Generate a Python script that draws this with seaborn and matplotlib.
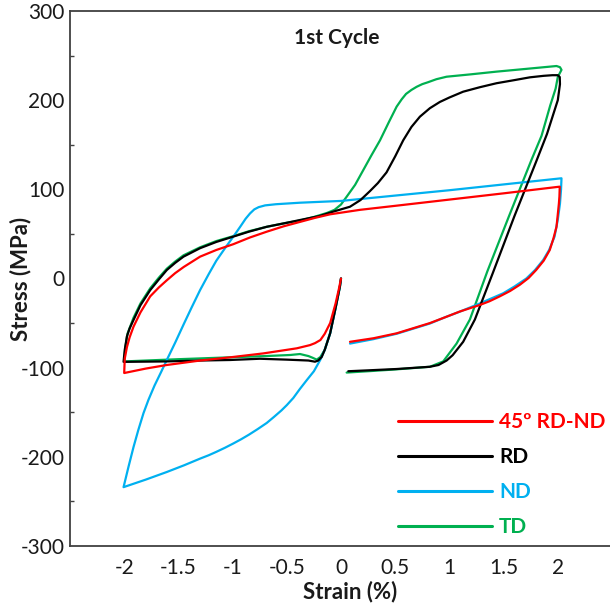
import numpy as np
import pandas as pd
import matplotlib
matplotlib.use("Agg")
import matplotlib.pyplot as plt
import seaborn as sns

# Strain (%) / stress (MPa) paths for the first cycle: compression to -2 %,
# reversal to +2 %, then unloading.
red_strain = [0, -0.02, -0.05, -0.1, -0.15, -0.19, -0.24, -0.286, -0.408, -0.716,
              -1.023, -1.3, -1.607, -1.8, -2.0,
              -1.995, -1.975, -1.95, -1.914, -1.85, -1.76, -1.68, -1.607, -1.53,
              -1.45, -1.3, -1.15, -0.993, -0.84, -0.685, -0.53, -0.378, -0.24,
              -0.1, 0.175, 0.5, 1.0, 1.5, 2.018,
              2.015, 2.01, 2.0, 1.988, 1.96, 1.926, 1.87, 1.8, 1.73, 1.65,
              1.56, 1.465, 1.37, 1.28, 1.097, 0.96, 0.82, 0.66, 0.513, 0.3, 0.083]
red_stress = [0, -12, -28, -50, -62, -69, -72.5, -74.7, -78.3, -84,
              -88.4, -92, -97, -101, -106,
              -90, -77, -66, -54, -38, -20, -10, -2, 6,
              13, 24.5, 32, 38.5, 46, 52.5, 58.5, 63.5, 68,
              72, 77, 81.5, 88.5, 95.5, 103,
              92, 84, 72, 58, 45, 32, 20, 9.5, 0.5, -7,
              -14, -20, -25.5, -29.7, -37, -43.5, -50, -56, -61.5, -67, -71]

rd_strain = [0, -0.01, -0.05, -0.1, -0.15, -0.178, -0.21, -0.24, -0.3, -0.5,
             -0.75, -1.023, -1.3, -1.607, -2.006,
             -1.995, -1.975, -1.95, -1.914, -1.85, -1.76, -1.68, -1.607, -1.53,
             -1.453, -1.3, -1.15, -0.993, -0.85, -0.685, -0.5, -0.378, -0.2,
             -0.071, 0.083, 0.18, 0.267, 0.34, 0.42, 0.5, 0.574, 0.65, 0.728,
             0.82, 0.912, 1.0, 1.127, 1.28, 1.435, 1.6, 1.742, 1.87, 1.95, 2.0,
             2.018,
             2.02, 2.0, 1.95, 1.9, 1.8, 1.6, 1.4, 1.235, 1.127, 1.03, 0.974,
             0.9, 0.82, 0.513, 0.25, 0.067]
rd_stress = [0, -9, -33, -61.5, -80, -88, -92, -93.3, -92, -91,
             -90, -91.4, -92, -93, -93.5,
             -80, -65, -56, -46.5, -30, -13, -1, 9.5, 17.5,
             24.5, 34, 41, 47, 52.5, 58, 62.5, 65.6, 70,
             75, 80.5, 88, 98, 107, 119, 137, 155, 170, 181.5,
             191, 198, 203, 209.5, 214.5, 219, 222.5, 225.6, 227.3, 228, 228,
             226,
             218, 200, 181, 162, 131, 70, 6, -46, -71, -86, -92,
             -97, -99, -101.5, -103, -104]

nd_strain = [0, -0.01, -0.05, -0.1, -0.15, -0.19, -0.25, -0.316, -0.38, -0.44,
             -0.5, -0.55, -0.62, -0.685, -0.77, -0.85, -0.92, -0.993, -1.07,
             -1.15, -1.22, -1.3, -1.45, -1.607, -1.8, -2.006,
             -1.96, -1.914, -1.87, -1.822, -1.776, -1.72, -1.66, -1.607, -1.53,
             -1.45, -1.38, -1.3, -1.22, -1.15, -1.07, -0.993, -0.93, -0.88,
             -0.839, -0.8, -0.76, -0.7, -0.6, -0.378,
             0, 0.5, 1.0, 1.5, 2.034,
             2.03, 2.02, 2.0, 1.97, 1.92, 1.865, 1.79, 1.71, 1.6, 1.496, 1.28,
             1.1, 0.96, 0.82, 0.66, 0.513, 0.3, 0.083]
nd_stress = [0, -9, -33, -61.5, -80, -91, -104, -114, -124, -134,
             -142, -148, -155.4, -162, -169, -175.2, -180.2, -185, -189.8,
             -194.4, -198.2, -202, -209.6, -217, -225.5, -234,
             -211, -189, -170, -151, -136, -120, -105, -91.4, -72,
             -51, -33, -13, 5, 20, 34, 47, 58, 67,
             73, 77.5, 80, 82, 83.3, 85,
             87, 93, 99, 105.5, 112.4,
             100, 84, 66, 47, 32, 20.7, 9.5, 0, -9, -16.6, -28,
             -37, -43.5, -50.5, -56.5, -62, -68, -73]

td_strain = [0, -0.01, -0.05, -0.1, -0.15, -0.19, -0.224, -0.26, -0.3, -0.378,
             -0.47, -0.7, -1.023, -1.5, -2.0,
             -1.99, -1.97, -1.914, -1.85, -1.76, -1.68, -1.607, -1.53, -1.453,
             -1.3, -1.15, -0.993, -0.85, -0.685, -0.5, -0.378, -0.25, -0.13,
             -0.06, 0.0, 0.052, 0.13, 0.206, 0.28, 0.36, 0.44, 0.513, 0.56, 0.6,
             0.65, 0.698, 0.75, 0.8, 0.88, 0.974, 1.2, 1.435, 1.7, 1.988, 2.02,
             2.034,
             2.0, 1.98, 1.93, 1.85, 1.757, 1.55, 1.35, 1.189, 1.066, 0.943,
             0.82, 0.5, 0.25, 0.052]
td_stress = [0, -9, -33, -61, -80, -88, -91, -89, -87, -84.7,
             -85.8, -87, -88.4, -90.5, -93,
             -78, -62, -44, -28, -11, 1, 11, 19, 26,
             35, 42, 47.5, 53, 58, 62.5, 65, 69, 73.5,
             77, 83, 91.7, 105, 121.7, 138, 155, 175, 192.7, 201, 207,
             211.5, 215, 218, 220, 223.5, 226.3, 229, 232, 235, 238.3, 237,
             234,
             226, 213, 194, 160, 133, 70, 8, -46, -73, -93,
             -99, -102, -104, -105.5]

series_names = ["45º RD-ND", "RD", "ND", "TD"]
series_colors = ["#FF0000", "#000000", "#00B0F0", "#00B050"]
x_ticks = [-2, -1.5, -1, -0.5, 0, 0.5, 1, 1.5, 2]
x_tick_labels = ["-2", "-1.5", "-1", "-0.5", "0", "0.5", "1", "1.5", "2"]
y_ticks = [-300, -200, -100, 0, 100, 200, 300]

frames = []
for name, xs, ys in zip(series_names,
                        [red_strain, rd_strain, nd_strain, td_strain],
                        [red_stress, rd_stress, nd_stress, td_stress]):
    frames.append(pd.DataFrame({"strain": xs, "stress": ys, "orientation": name}))
df = pd.concat(frames, ignore_index=True)

sns.set_style("white")
plt.rcParams["font.family"] = ["Lato", "DejaVu Sans"]
plt.rcParams["axes.unicode_minus"] = False

fig = plt.figure(figsize=(6.10, 6.09), dpi=100)
ax = fig.add_axes([70 / 610, 63 / 609, 542 / 610, 535 / 609])

palette = dict(zip(series_names, series_colors))
draw_order = ["TD", "ND", "RD", "45º RD-ND"]
sns.lineplot(data=df, x="strain", y="stress", hue="orientation",
             hue_order=draw_order, palette=palette, sort=False,
             estimator=None, linewidth=1.6, ax=ax)
for line in ax.get_lines():
    line.set_solid_joinstyle("round")

ax.set_xlim(-2.5, 2.5)
ax.set_ylim(-300, 300)
ax.set_xticks(x_ticks)
ax.set_xticklabels(x_tick_labels)
ax.set_yticks(y_ticks)
ax.set_yticks([-250, -150, -50, 50, 150, 250], minor=True)

for side in ["left", "bottom", "top"]:
    ax.spines[side].set_visible(True)
    ax.spines[side].set_color("#404040")
    ax.spines[side].set_linewidth(1.3)
ax.spines["right"].set_visible(False)

ax.tick_params(axis="x", which="major", direction="in", length=4, width=1,
               color="#404040", pad=9, labelsize=15, labelcolor="#1a1a1a")
ax.tick_params(axis="y", which="major", direction="in", length=4, width=1,
               color="#404040", pad=4, labelsize=15, labelcolor="#1a1a1a")
ax.tick_params(axis="y", which="minor", direction="in", length=3, width=1,
               color="#404040", left=True)

ax.set_xlabel("Strain (%)", fontsize=16, fontweight="bold", color="#1a1a1a")
ax.set_ylabel("Stress (MPa)", fontsize=16, fontweight="bold", color="#1a1a1a")
ax.xaxis.label.set_verticalalignment("center")
ax.xaxis.set_label_coords((350 - 70) / 542, -(592 - 546) / 535)
ax.yaxis.set_label_coords(-(70 - 31) / 542, 0.5)

ax.text(-0.04, 270, "1st Cycle", ha="center", va="center", fontsize=15,
        fontweight="bold", color="#1a1a1a")

handles, labels = ax.get_legend_handles_labels()
lookup = dict(zip(labels, handles))
ax.legend([lookup[n] for n in series_names], series_names,
          loc="upper left", bbox_to_anchor=(398 / 610, 1 - 412 / 609),
          bbox_transform=fig.transFigure, frameon=False, borderpad=0,
          borderaxespad=0, handlelength=4.5, handletextpad=0.35,
          labelspacing=0.72, labelcolor="linecolor",
          prop={"size": 15, "weight": "bold"})
for line in ax.get_legend().get_lines():
    line.set_linewidth(2.2)

fig.savefig("out.png", dpi=100)
